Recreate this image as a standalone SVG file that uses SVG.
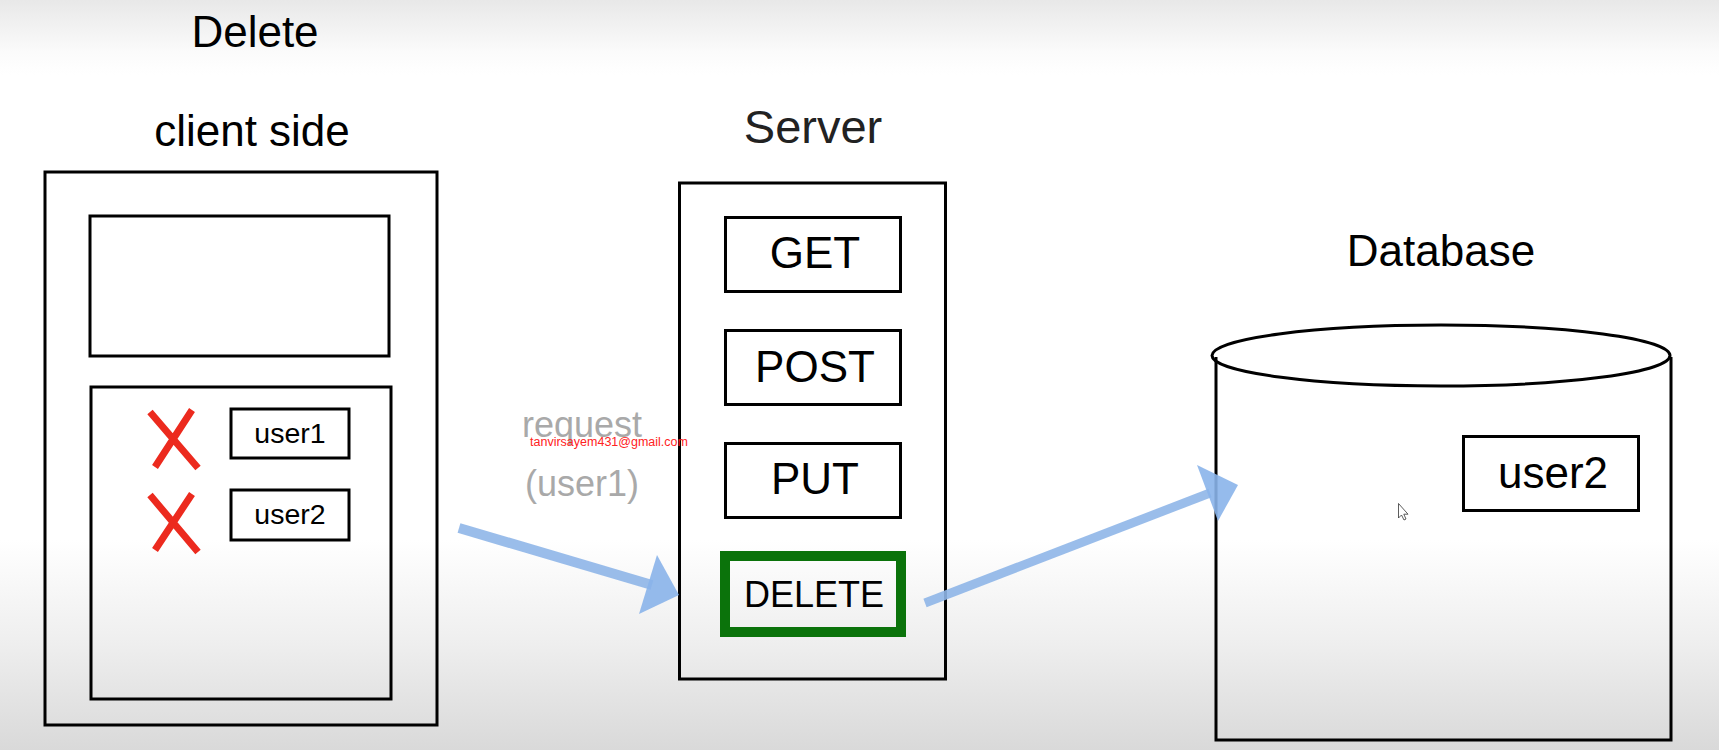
<svg xmlns="http://www.w3.org/2000/svg" width="1719" height="750" viewBox="0 0 1719 750">
<defs>
<linearGradient id="bg" x1="0" y1="0" x2="0" y2="1">
<stop offset="0" stop-color="#e8e8e8"/>
<stop offset="0.07" stop-color="#fbfbfb"/>
<stop offset="0.1" stop-color="#ffffff"/>
<stop offset="0.72" stop-color="#ffffff"/>
<stop offset="0.86" stop-color="#eeeeee"/>
<stop offset="1" stop-color="#d9d9d9"/>
</linearGradient>
<filter id="soft" x="-5%" y="-20%" width="110%" height="140%"><feGaussianBlur stdDeviation="0.7"/></filter>
<style>
.t{font-family:"Liberation Sans",Arial,sans-serif;text-anchor:middle;fill:#000}
.box{fill:none;stroke:#000;stroke-width:3}
.x{stroke:#ec2a1e;stroke-width:7;fill:none}
.shaft{stroke:#8fb6e8;stroke-opacity:0.9;fill:none}
.head{fill:#8ab4ea;fill-opacity:0.9}
</style>
</defs>
<rect x="0" y="0" width="1719" height="750" fill="url(#bg)"/>

<text class="t" x="255" y="47" font-size="44">Delete</text>

<g id="client">
<text class="t" x="252" y="146" font-size="44">client side</text>
<rect class="box" x="45" y="172" width="392" height="553"/>
<rect class="box" x="90" y="216" width="299" height="140"/>
<rect class="box" x="91" y="387" width="300" height="312" stroke-width="4.5"/>
</g>

<g id="user1">
<path class="x" d="M150 412 L198 468 M192 410 L155 467"/>
<rect class="box" x="231" y="409" width="118" height="49" stroke-width="2.5"/>
<text class="t" x="290" y="443" font-size="28.5">user1</text>
</g>

<g id="user2">
<path class="x" d="M150 495 L198 552 M192 494 L155 550"/>
<rect class="box" x="231" y="490" width="118" height="50" stroke-width="2.5"/>
<text class="t" x="290" y="524" font-size="28.5">user2</text>
</g>

<g id="server">
<text class="t" x="813" y="143" font-size="47" style="fill:#222">Server</text>
<rect class="box" x="679.5" y="183" width="266" height="496"/>
</g>

<g id="get">
<rect class="box" x="725.5" y="217.5" width="175" height="74"/>
<text class="t" x="815" y="268" font-size="44">GET</text>
</g>
<g id="post">
<rect class="box" x="725.5" y="330.5" width="175" height="74"/>
<text class="t" x="815" y="382" font-size="44">POST</text>
</g>
<g id="put">
<rect class="box" x="725.5" y="443.5" width="175" height="74"/>
<text class="t" x="815" y="494" font-size="44">PUT</text>
</g>
<g id="delete">
<rect x="725" y="556" width="176" height="76" fill="none" stroke="#0b730b" stroke-width="10"/>
<text class="t" x="814" y="607" font-size="36">DELETE</text>
</g>

<g id="database">
<text class="t" x="1441" y="266" font-size="44">Database</text>
<path class="box" d="M1216 357 V740 H1671 V357"/>
<ellipse class="box" cx="1441" cy="355.5" rx="229" ry="30.5" fill="#fff"/>
</g>

<g id="db-user2">
<rect class="box" x="1463.5" y="436.5" width="175" height="74"/>
<text class="t" x="1553" y="488" font-size="44">user2</text>
</g>

<g id="connectors" filter="url(#soft)">
<line class="shaft" x1="459" y1="528" x2="652" y2="585" stroke-width="10"/>
<polygon class="head" points="657,555 679,595 639,614"/>
<line class="shaft" x1="925" y1="603" x2="1210" y2="493" stroke-width="9"/>
<polygon class="head" points="1197,465 1238,485 1218,521"/>
</g>

<g id="labels">
<text class="t" x="582" y="437" font-size="36" style="fill:#a9a9a9">request</text>
<text class="t" x="582" y="496" font-size="36" style="fill:#a9a9a9">(user1)</text>
<text class="t" x="609" y="446" font-size="12.5" style="fill:#ff2222">tanvirsayem431@gmail.com</text>
</g>

<path d="M1398.5 503.5 V518 L1401.5 515 L1404 520 L1406 519 L1403.8 514.2 L1408 514.2 Z" fill="#fff" stroke="#333" stroke-width="0.8"/>
</svg>
